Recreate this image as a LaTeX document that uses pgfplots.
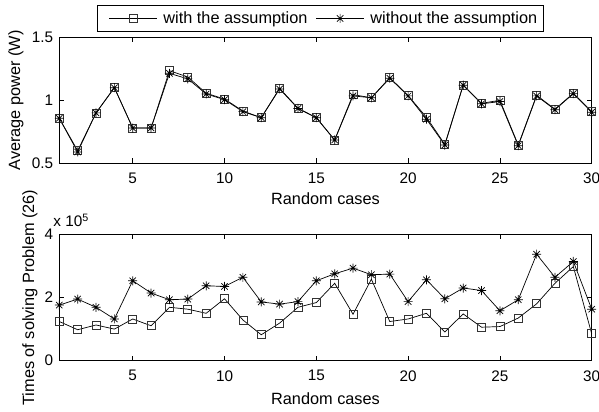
\documentclass[border=0pt]{standalone}
\usepackage{pgfplots}
\pgfplotsset{compat=1.18}
\usepackage{fontspec}
\setmainfont{Liberation Sans}

\pgfdeclareplotmark{mstar}{%
  \pgfpathmoveto{\pgfqpoint{-\pgfplotmarksize}{0pt}}\pgfpathlineto{\pgfqpoint{\pgfplotmarksize}{0pt}}%
  \pgfpathmoveto{\pgfqpoint{0pt}{-\pgfplotmarksize}}\pgfpathlineto{\pgfqpoint{0pt}{\pgfplotmarksize}}%
  \pgfpathmoveto{\pgfqpoint{-.707\pgfplotmarksize}{-.707\pgfplotmarksize}}\pgfpathlineto{\pgfqpoint{.707\pgfplotmarksize}{.707\pgfplotmarksize}}%
  \pgfpathmoveto{\pgfqpoint{-.707\pgfplotmarksize}{.707\pgfplotmarksize}}\pgfpathlineto{\pgfqpoint{.707\pgfplotmarksize}{-.707\pgfplotmarksize}}%
  \pgfusepathqstroke}

\pgfplotstableread{
x with without
1 0.857 0.857
2 0.600 0.590
3 0.900 0.900
4 1.100 1.100
5 0.780 0.780
6 0.780 0.780
7 1.235 1.214
8 1.185 1.170
9 1.056 1.050
10 1.010 1.005
11 0.915 0.910
12 0.862 0.862
13 1.095 1.090
14 0.937 0.935
15 0.862 0.862
16 0.685 0.685
17 1.045 1.035
18 1.020 1.020
19 1.180 1.175
20 1.037 1.035
21 0.865 0.850
22 0.650 0.645
23 1.120 1.120
24 0.976 0.972
25 1.000 0.990
26 0.645 0.640
27 1.040 1.035
28 0.929 0.925
29 1.056 1.053
30 0.910 0.905
}\powertable

\pgfplotstableread{
x with without
1 124000 176000
2 98000 195000
3 113000 169000
4 100000 132000
5 132000 253000
6 110500 214000
7 169000 193000
8 163000 195000
9 150000 237000
10 196000 235000
11 129000 264000
12 82000 186000
13 119000 179000
14 169000 187000
15 184000 253000
16 245000 275000
17 147000 293000
18 258000 272000
19 124000 274000
20 132000 187000
21 150000 256000
22 91000 196000
23 148000 230000
24 106000 222000
25 108000 158000
26 135000 193000
27 180000 337000
28 245000 264000
29 298000 314000
30 85000 163000
}\timestable

\pgfplotsset{
  mystyle/.style={
    scale only axis,
    width=532.4bp,
    xmin=1, xmax=30,
    xtick={5,10,...,30},
    tick align=inside,
    major tick length=5bp,
    axis line style={line width=0.9bp},
    every tick/.style={black, line width=0.6bp},
    clip=false,
    /pgf/number format/assume math mode=true,
    tick label style={font=\fontsize{15.3bp}{18bp}\selectfont},
    xticklabel style={inner sep=0pt, anchor=north, yshift=-9.5bp},
    yticklabel style={inner sep=0pt, anchor=east, xshift=-6bp},
    label style={font=\fontsize{16.3bp}{19bp}\selectfont},
    xlabel={Random cases},
    every axis plot/.append style={black, line width=0.7bp},
  }
}

\begin{document}
\begin{tikzpicture}
\useasboundingbox (0,0) rectangle (599bp,412bp);

\begin{axis}[mystyle,
  at={(59.3bp,248.7bp)}, anchor=south west,
  height=126bp,
  ymin=0.5, ymax=1.5, ytick={0.5,1,1.5},
  yticklabels={0.5,1,1.5},
  xlabel style={at={(axis description cs:0.5,0)}, anchor=base, inner sep=0pt, yshift=-41.7bp},
  ylabel={Average power (W)},
  ylabel style={at={(axis description cs:-0.0813,0.5)}, anchor=center, rotate=0, inner sep=0pt},
  legend columns=2,
  legend image code/.code={\path (-4.3bp,0bp); \draw[mark repeat=2,mark phase=2,#1] plot coordinates {(0bp,0bp) (24bp,0bp) (48bp,0bp)};},
  legend style={at={(axis description cs:0.0714,1.256)}, anchor=north west,
    draw=black, line width=0.8bp, inner xsep=6.7bp, inner ysep=6.3bp,
    font=\fontsize{16.3bp}{19bp}\selectfont,
    nodes={inner sep=0pt},
    /tikz/every odd column/.append style={column sep=6bp},
    /tikz/every even column/.append style={column sep=4bp}},
]
\addplot[mark=square, mark size=4bp, mark options={solid, draw=black!80}] table[x=x, y=with] {\powertable};
\addlegendentry{with the assumption}
\addplot[mark=mstar, mark size=4.5bp, mark options={solid}] table[x=x, y=without] {\powertable};
\addlegendentry{without the assumption}
\end{axis}

\begin{axis}[mystyle,
  at={(59.3bp,51.3bp)}, anchor=south west,
  height=126.4bp,
  ymin=0, ymax=400000, ytick={0,200000,400000},
  scaled y ticks=base 10:-5,
  ytick scale label code/.code={x 10\textsuperscript{5}},
  every y tick scale label/.style={at={(rel axis cs:0,1)}, anchor=base west, inner sep=0pt, yshift=7.6bp, font=\fontsize{15.3bp}{18bp}\selectfont},
  xlabel style={at={(axis description cs:0.5,0)}, anchor=base, inner sep=0pt, yshift=-44bp},
  ylabel={Times of solving Problem (26)},
  ylabel style={at={(axis description cs:-0.0554,0.5)}, anchor=center, rotate=0, inner sep=0pt},
]
\addplot[mark=square, mark size=4bp, mark options={solid, draw=black!80}] table[x=x, y=with] {\timestable};
\addplot[mark=mstar, mark size=4.5bp, mark options={solid}] table[x=x, y=without] {\timestable};
\end{axis}
\end{tikzpicture}
\end{document}
